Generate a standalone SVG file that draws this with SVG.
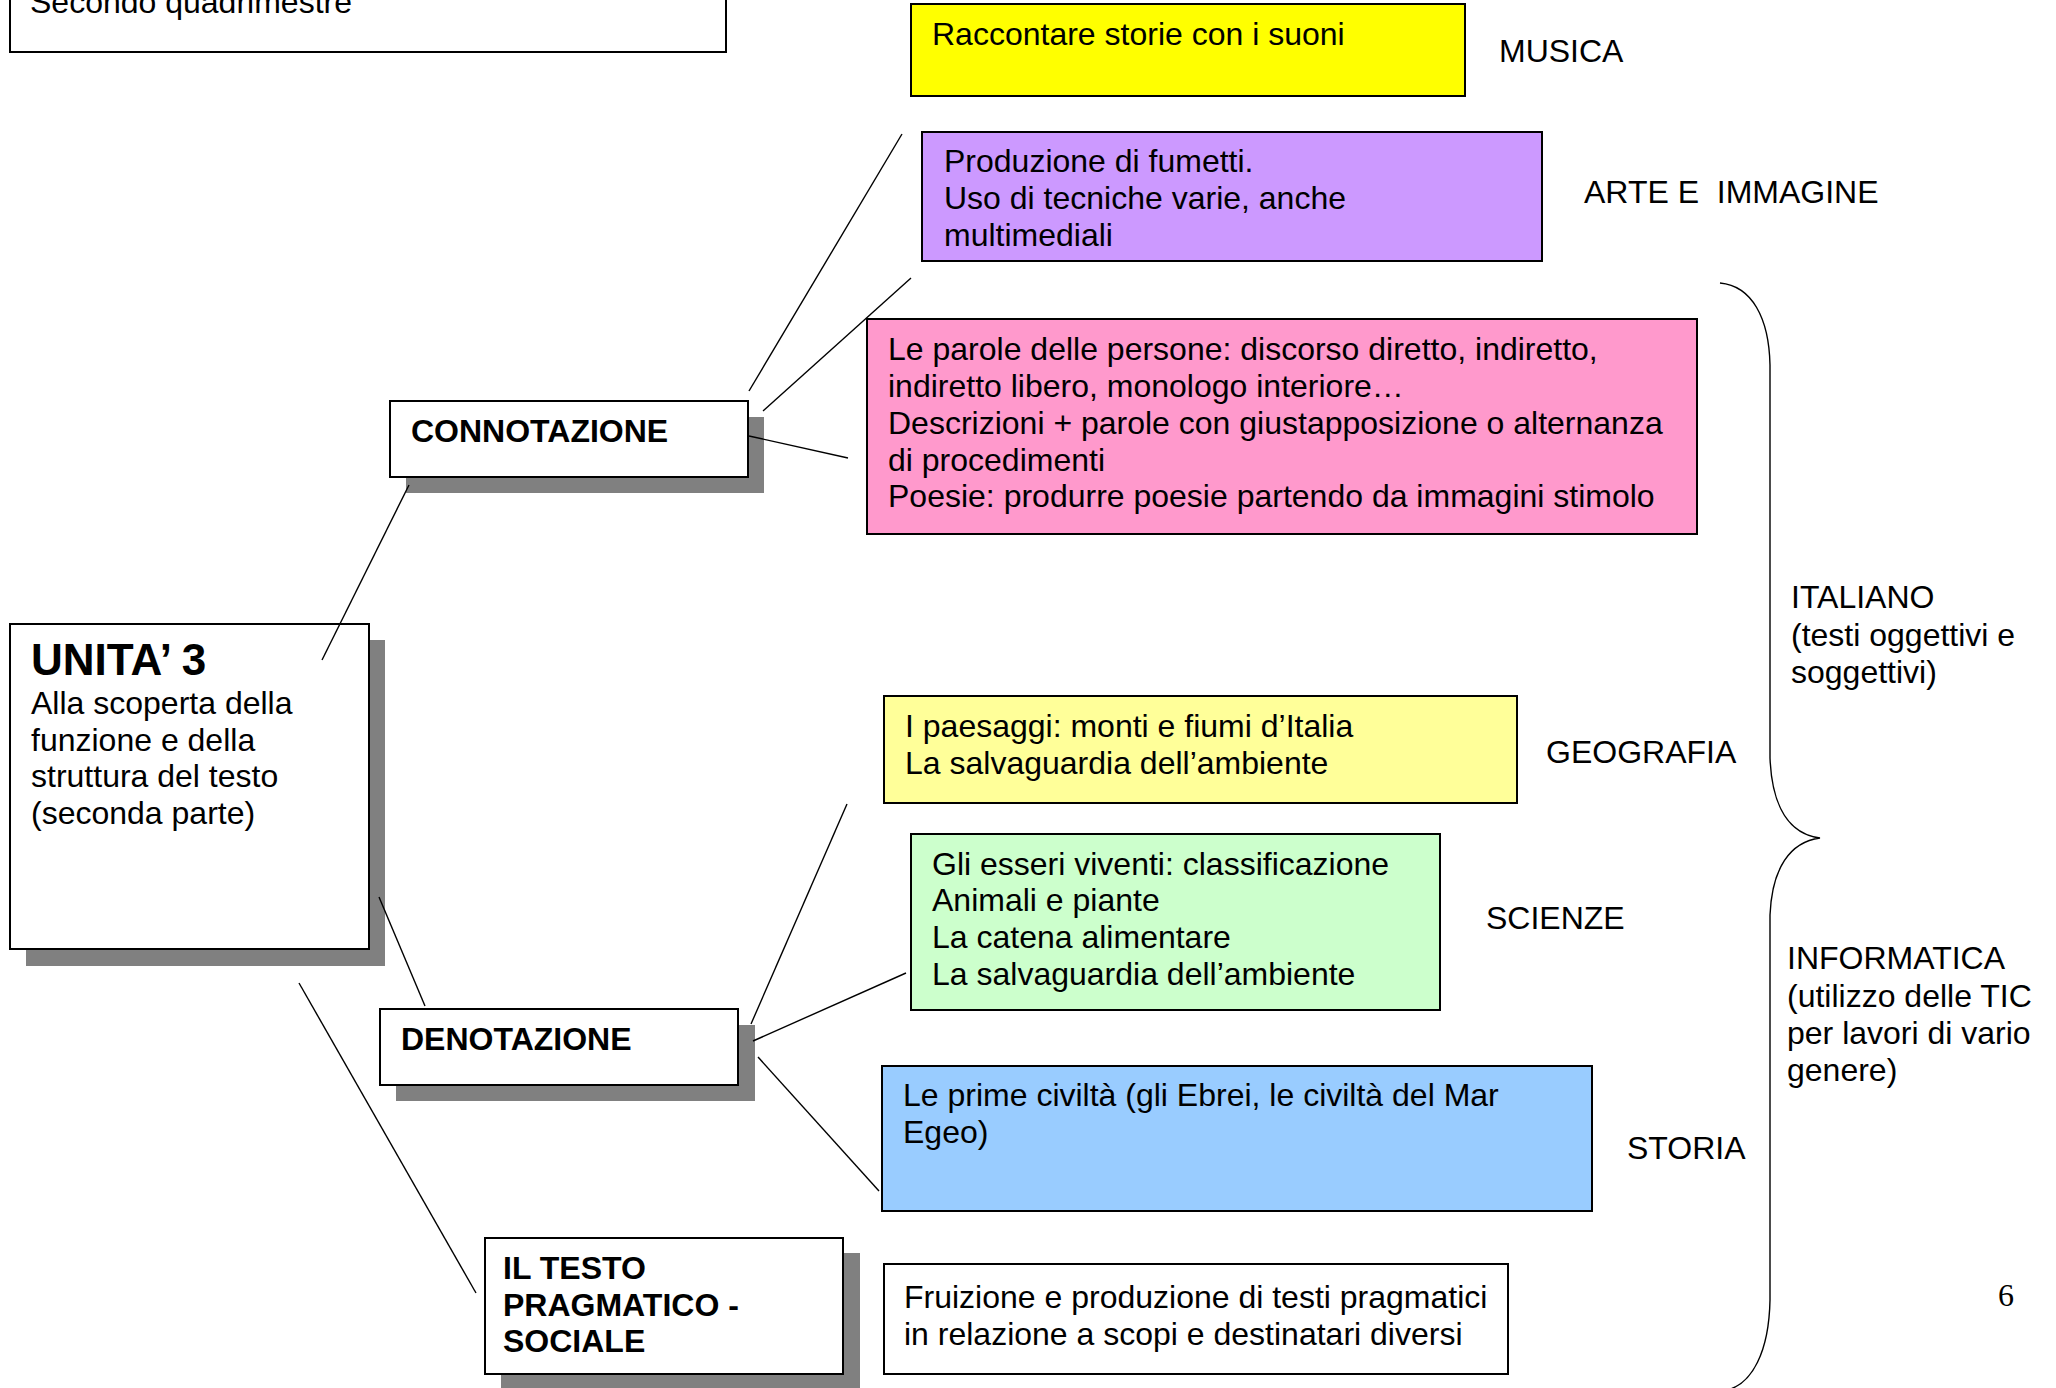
<svg xmlns="http://www.w3.org/2000/svg" width="2056" height="1388" viewBox="0 0 2056 1388">
<style>
text{font-family:"Liberation Sans",Arial,sans-serif;font-size:32px;fill:#000}
.b{font-weight:bold}
.box{stroke:#000;stroke-width:2}
.sh{fill:#808080}
.ln{stroke:#000;stroke-width:1.4;fill:none}
</style>
<rect width="2056" height="1388" fill="#fff"/>
<g id="header">
<rect class="box" x="10" y="-10" width="716" height="62" fill="#fff"/>
<text x="30" y="13">Secondo quadrimestre</text>
</g>
<g id="unita">
<rect class="sh" x="26" y="640" width="359" height="326"/>
<rect class="box" x="10" y="624" width="359" height="325" fill="#fff"/>
<text class="b" x="31" y="675" style="font-size:44px">UNITA’ 3</text>
<text x="31" y="714">Alla scoperta della</text>
<text x="31" y="751">funzione e della</text>
<text x="31" y="787">struttura del testo</text>
<text x="31" y="824">(seconda parte)</text>
</g>
<g id="connotazione">
<rect class="sh" x="406" y="417" width="358" height="76"/>
<rect class="box" x="390" y="401" width="358" height="76" fill="#fff"/>
<text class="b" x="411" y="442">CONNOTAZIONE</text>
</g>
<g id="denotazione">
<rect class="sh" x="396" y="1025" width="359" height="76"/>
<rect class="box" x="380" y="1009" width="358" height="76" fill="#fff"/>
<text class="b" x="401" y="1050">DENOTAZIONE</text>
</g>
<g id="pragmatico">
<rect class="sh" x="501" y="1253" width="359" height="140"/>
<rect class="box" x="485" y="1238" width="358" height="136" fill="#fff"/>
<text class="b" x="503" y="1279">IL TESTO</text>
<text class="b" x="503" y="1316">PRAGMATICO -</text>
<text class="b" x="503" y="1352">SOCIALE</text>
</g>
<g id="musica">
<rect class="box" x="911" y="4" width="554" height="92" fill="#FFFF00"/>
<text x="932" y="45">Raccontare storie con i suoni</text>
<text x="1499" y="62">MUSICA</text>
</g>
<g id="arte">
<rect class="box" x="922" y="132" width="620" height="129" fill="#CC99FF"/>
<text x="944" y="172">Produzione di fumetti.</text>
<text x="944" y="209">Uso di tecniche varie, anche</text>
<text x="944" y="246">multimediali</text>
<text x="1584" y="203" xml:space="preserve">ARTE E  IMMAGINE</text>
</g>
<g id="italiano">
<rect class="box" x="867" y="319" width="830" height="215" fill="#FF99CC"/>
<text x="888" y="360">Le parole delle persone: discorso diretto, indiretto,</text>
<text x="888" y="397">indiretto libero, monologo interiore…</text>
<text x="888" y="434">Descrizioni + parole con giustapposizione o alternanza</text>
<text x="888" y="471">di procedimenti</text>
<text x="888" y="507">Poesie: produrre poesie partendo da immagini stimolo</text>
</g>
<g id="geografia">
<rect class="box" x="884" y="696" width="633" height="107" fill="#FFFF99"/>
<text x="905" y="737">I paesaggi: monti e fiumi d’Italia</text>
<text x="905" y="774">La salvaguardia dell’ambiente</text>
<text x="1546" y="763">GEOGRAFIA</text>
</g>
<g id="scienze">
<rect class="box" x="911" y="834" width="529" height="176" fill="#CCFFCC"/>
<text x="932" y="875">Gli esseri viventi: classificazione</text>
<text x="932" y="911">Animali e piante</text>
<text x="932" y="948">La catena alimentare</text>
<text x="932" y="985">La salvaguardia dell’ambiente</text>
<text x="1486" y="929">SCIENZE</text>
</g>
<g id="storia">
<rect class="box" x="882" y="1066" width="710" height="145" fill="#99CCFF"/>
<text x="903" y="1106">Le prime civiltà (gli Ebrei, le civiltà del Mar</text>
<text x="903" y="1143">Egeo)</text>
<text x="1627" y="1159">STORIA</text>
</g>
<g id="fruizione">
<rect class="box" x="884" y="1264" width="624" height="110" fill="#fff"/>
<text x="904" y="1308">Fruizione e produzione di testi pragmatici</text>
<text x="904" y="1345">in relazione a scopi e destinatari diversi</text>
</g>
<g id="labels">
<text x="1791" y="608">ITALIANO</text>
<text x="1791" y="646">(testi oggettivi e</text>
<text x="1791" y="683">soggettivi)</text>
<text x="1787" y="969">INFORMATICA</text>
<text x="1787" y="1007">(utilizzo delle TIC</text>
<text x="1787" y="1044">per lavori di vario</text>
<text x="1787" y="1081">genere)</text>
<text x="1998" y="1306" style="font-family:'Liberation Serif','Times New Roman',serif">6</text>
</g>
<g id="connectors">
<line class="ln" x1="322" y1="660" x2="409" y2="485"/>
<line class="ln" x1="379" y1="897" x2="425" y2="1006"/>
<line class="ln" x1="299" y1="983" x2="476" y2="1293"/>
<line class="ln" x1="749" y1="391" x2="902" y2="134"/>
<line class="ln" x1="763" y1="411" x2="911" y2="278"/>
<line class="ln" x1="749" y1="436" x2="848" y2="458"/>
<line class="ln" x1="751" y1="1024" x2="847" y2="804"/>
<line class="ln" x1="753" y1="1041" x2="906" y2="973"/>
<line class="ln" x1="758" y1="1057" x2="879" y2="1191"/>
<path class="ln" d="M1720 283 C1752 286 1769 318 1770 365 L1770 758 C1772 808 1790 834 1820 838 C1790 842 1772 868 1770 915 L1770 1300 C1769 1352 1752 1384 1727 1390"/>
</g>
</svg>
